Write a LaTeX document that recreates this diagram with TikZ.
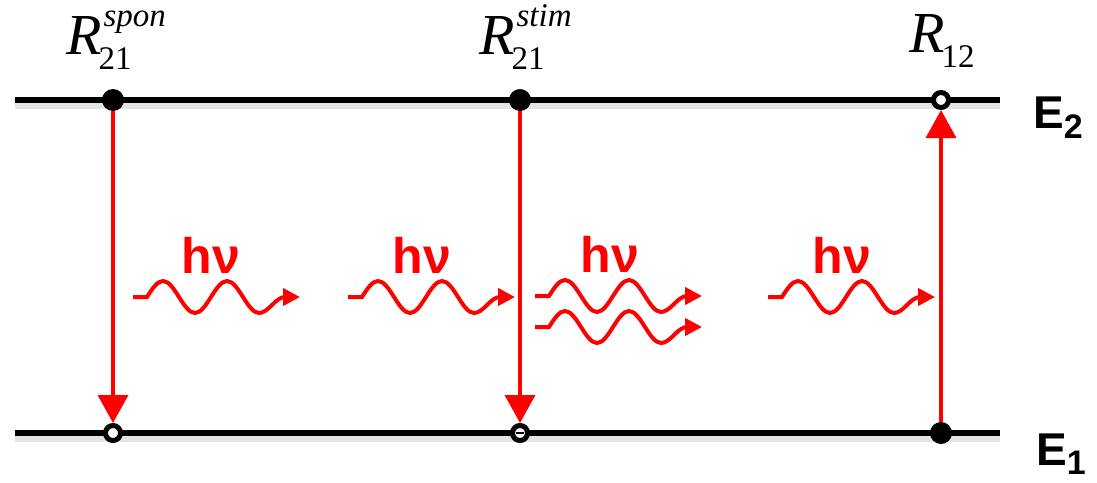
\documentclass[tikz,border=0pt]{standalone}
\usepackage{fontspec}
\setmainfont{Liberation Serif}
\newfontfamily\headsans{Liberation Sans}
\usetikzlibrary{arrows.meta}

\newcommand{\ratelab}[2]{{\fontsize{58}{58}\selectfont\itshape R}\kern-3pt\rlap{\kern5pt\raisebox{28pt}{\fontsize{33}{33}\selectfont\itshape #2}}\raisebox{-15pt}{\fontsize{33}{33}\selectfont #1}}
\newcommand{\levlab}[2]{{\headsans\bfseries\fontsize{46}{46}\selectfont E\raisebox{#2}{\fontsize{34}{34}\selectfont #1}}}

\begin{document}
\begin{tikzpicture}[x=1pt, y=-1pt,
    energy/.style={line width=6pt},
    energyshade/.style={line width=7pt, gray!22},
    dotfull/.style={circle, fill=black, minimum size=22pt, inner sep=0pt},
    dothollow/.style={circle, draw=black, fill=white, line width=5pt, minimum size=15pt, inner sep=0pt},
    transition/.style={red, line width=3.5pt, -{Triangle[length=28pt,width=30pt]}},
    wave/.style={red, line width=4pt, -{Triangle[length=17pt,width=17pt]}},
    photon/.pic={\draw[wave] (0,0) -- (14,0) sin (30,-16) cos (46,0) sin (62,16) cos (78,0) sin (94,-16) cos (110,0) sin (126,16) cos (139,8) sin (152,0) -- (167,0);},
    hnu/.style={red, font=\headsans\bfseries\fontsize{50}{50}\selectfont, anchor=base, inner sep=0pt}
]
    \useasboundingbox (0,0) rectangle (1097,482);
    \coordinate (E2w) at (15,100);
    \coordinate (E2e) at (1000,100);
    \coordinate (E1w) at (15,433);
    \coordinate (E1e) at (1000,433);
    \draw[energyshade] ([yshift=-5pt]E2w) -- ([yshift=-5pt]E2e);
    \draw[energyshade] ([yshift=-5pt]E1w) -- ([yshift=-5pt]E1e);
    \draw[energy] (E2w) -- (E2e);
    \draw[energy] (E1w) -- (E1e);

    \node[dotfull] (sponup) at (113,100) {};
    \node[dotfull] (stimup) at (520,100) {};
    \node[dothollow] (absup) at (941,100) {};
    \node[dothollow] (spondown) at (113,433) {};
    \node[dothollow] (stimdown) at (520,433) {};
    \node[dotfull] (absdown) at (941,433) {};
    \draw[line width=2.5pt] ([xshift=-4pt]stimdown.center) -- ([xshift=4pt]stimdown.center);

    \draw[transition] (sponup) -- (spondown);
    \draw[transition] (stimup) -- (stimdown);
    \draw[transition] (absdown) -- (absup);

    \node[anchor=base west, inner sep=0pt] (sponlab) at (66,54) {\ratelab{21}{spon}};
    \node[anchor=base west, inner sep=0pt] (stimlab) at (479,54) {\ratelab{21}{stim}};
    \node[anchor=base west, inner sep=0pt] (abslab) at (909,52) {\ratelab{12}{}};

    \node[anchor=base west, inner sep=0pt] (E2lab) at (1033,128) {\levlab{2}{-10pt}};
    \node[anchor=base west, inner sep=0pt] (E1lab) at (1036,465) {\levlab{1}{-9pt}};

    \pic at (133,297) {photon};
    \pic at (348,297) {photon};
    \pic at (535,296) {photon};
    \pic at (535,327) {photon};
    \pic at (768,297) {photon};
    \node[hnu] (hnuA) at (211,273) {hν};
    \node[hnu] (hnuB) at (422,273) {hν};
    \node[hnu] (hnuC) at (610,272) {hν};
    \node[hnu] (hnuD) at (842,273) {hν};
\end{tikzpicture}
\end{document}
